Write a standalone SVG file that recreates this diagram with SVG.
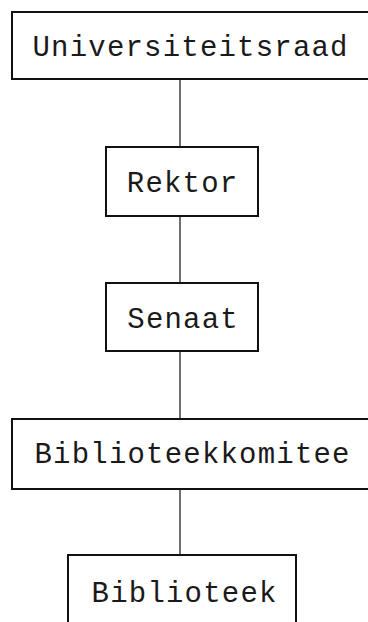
<svg xmlns="http://www.w3.org/2000/svg" width="368" height="622" viewBox="0 0 368 622">
<style>
.box{fill:#fff;stroke:#111;stroke-width:2}
.lbl{font-family:"Liberation Mono","DejaVu Sans Mono",monospace;font-size:29px;letter-spacing:1.2px;fill:#1a1a1a;text-anchor:middle}
.edge{stroke:#222;stroke-width:1.3;fill:none}
</style>
<rect width="368" height="622" fill="#fff"/>
<g id="connectors">
<line class="edge" x1="180" y1="79" x2="180" y2="147"/>
<line class="edge" x1="180" y1="216" x2="180" y2="283"/>
<line class="edge" x1="180" y1="351" x2="180" y2="419"/>
<line class="edge" x1="180" y1="489" x2="180" y2="555"/>
</g>
<g id="universiteitsraad">
<rect class="box" x="12" y="12" width="370" height="67"/>
<text class="lbl" x="190.6" y="56">Universiteitsraad</text>
</g>
<g id="rektor">
<rect class="box" x="106" y="147" width="152" height="69"/>
<text class="lbl" x="182.6" y="192">Rektor</text>
</g>
<g id="senaat">
<rect class="box" x="106" y="283" width="152" height="68"/>
<text class="lbl" x="183.1" y="328">Senaat</text>
</g>
<g id="biblioteekkomitee">
<rect class="box" x="12" y="419" width="370" height="70"/>
<text class="lbl" x="192.6" y="463">Biblioteekkomitee</text>
</g>
<g id="biblioteek">
<rect class="box" x="68" y="555" width="228" height="80"/>
<text class="lbl" x="184.6" y="602">Biblioteek</text>
</g>
</svg>
